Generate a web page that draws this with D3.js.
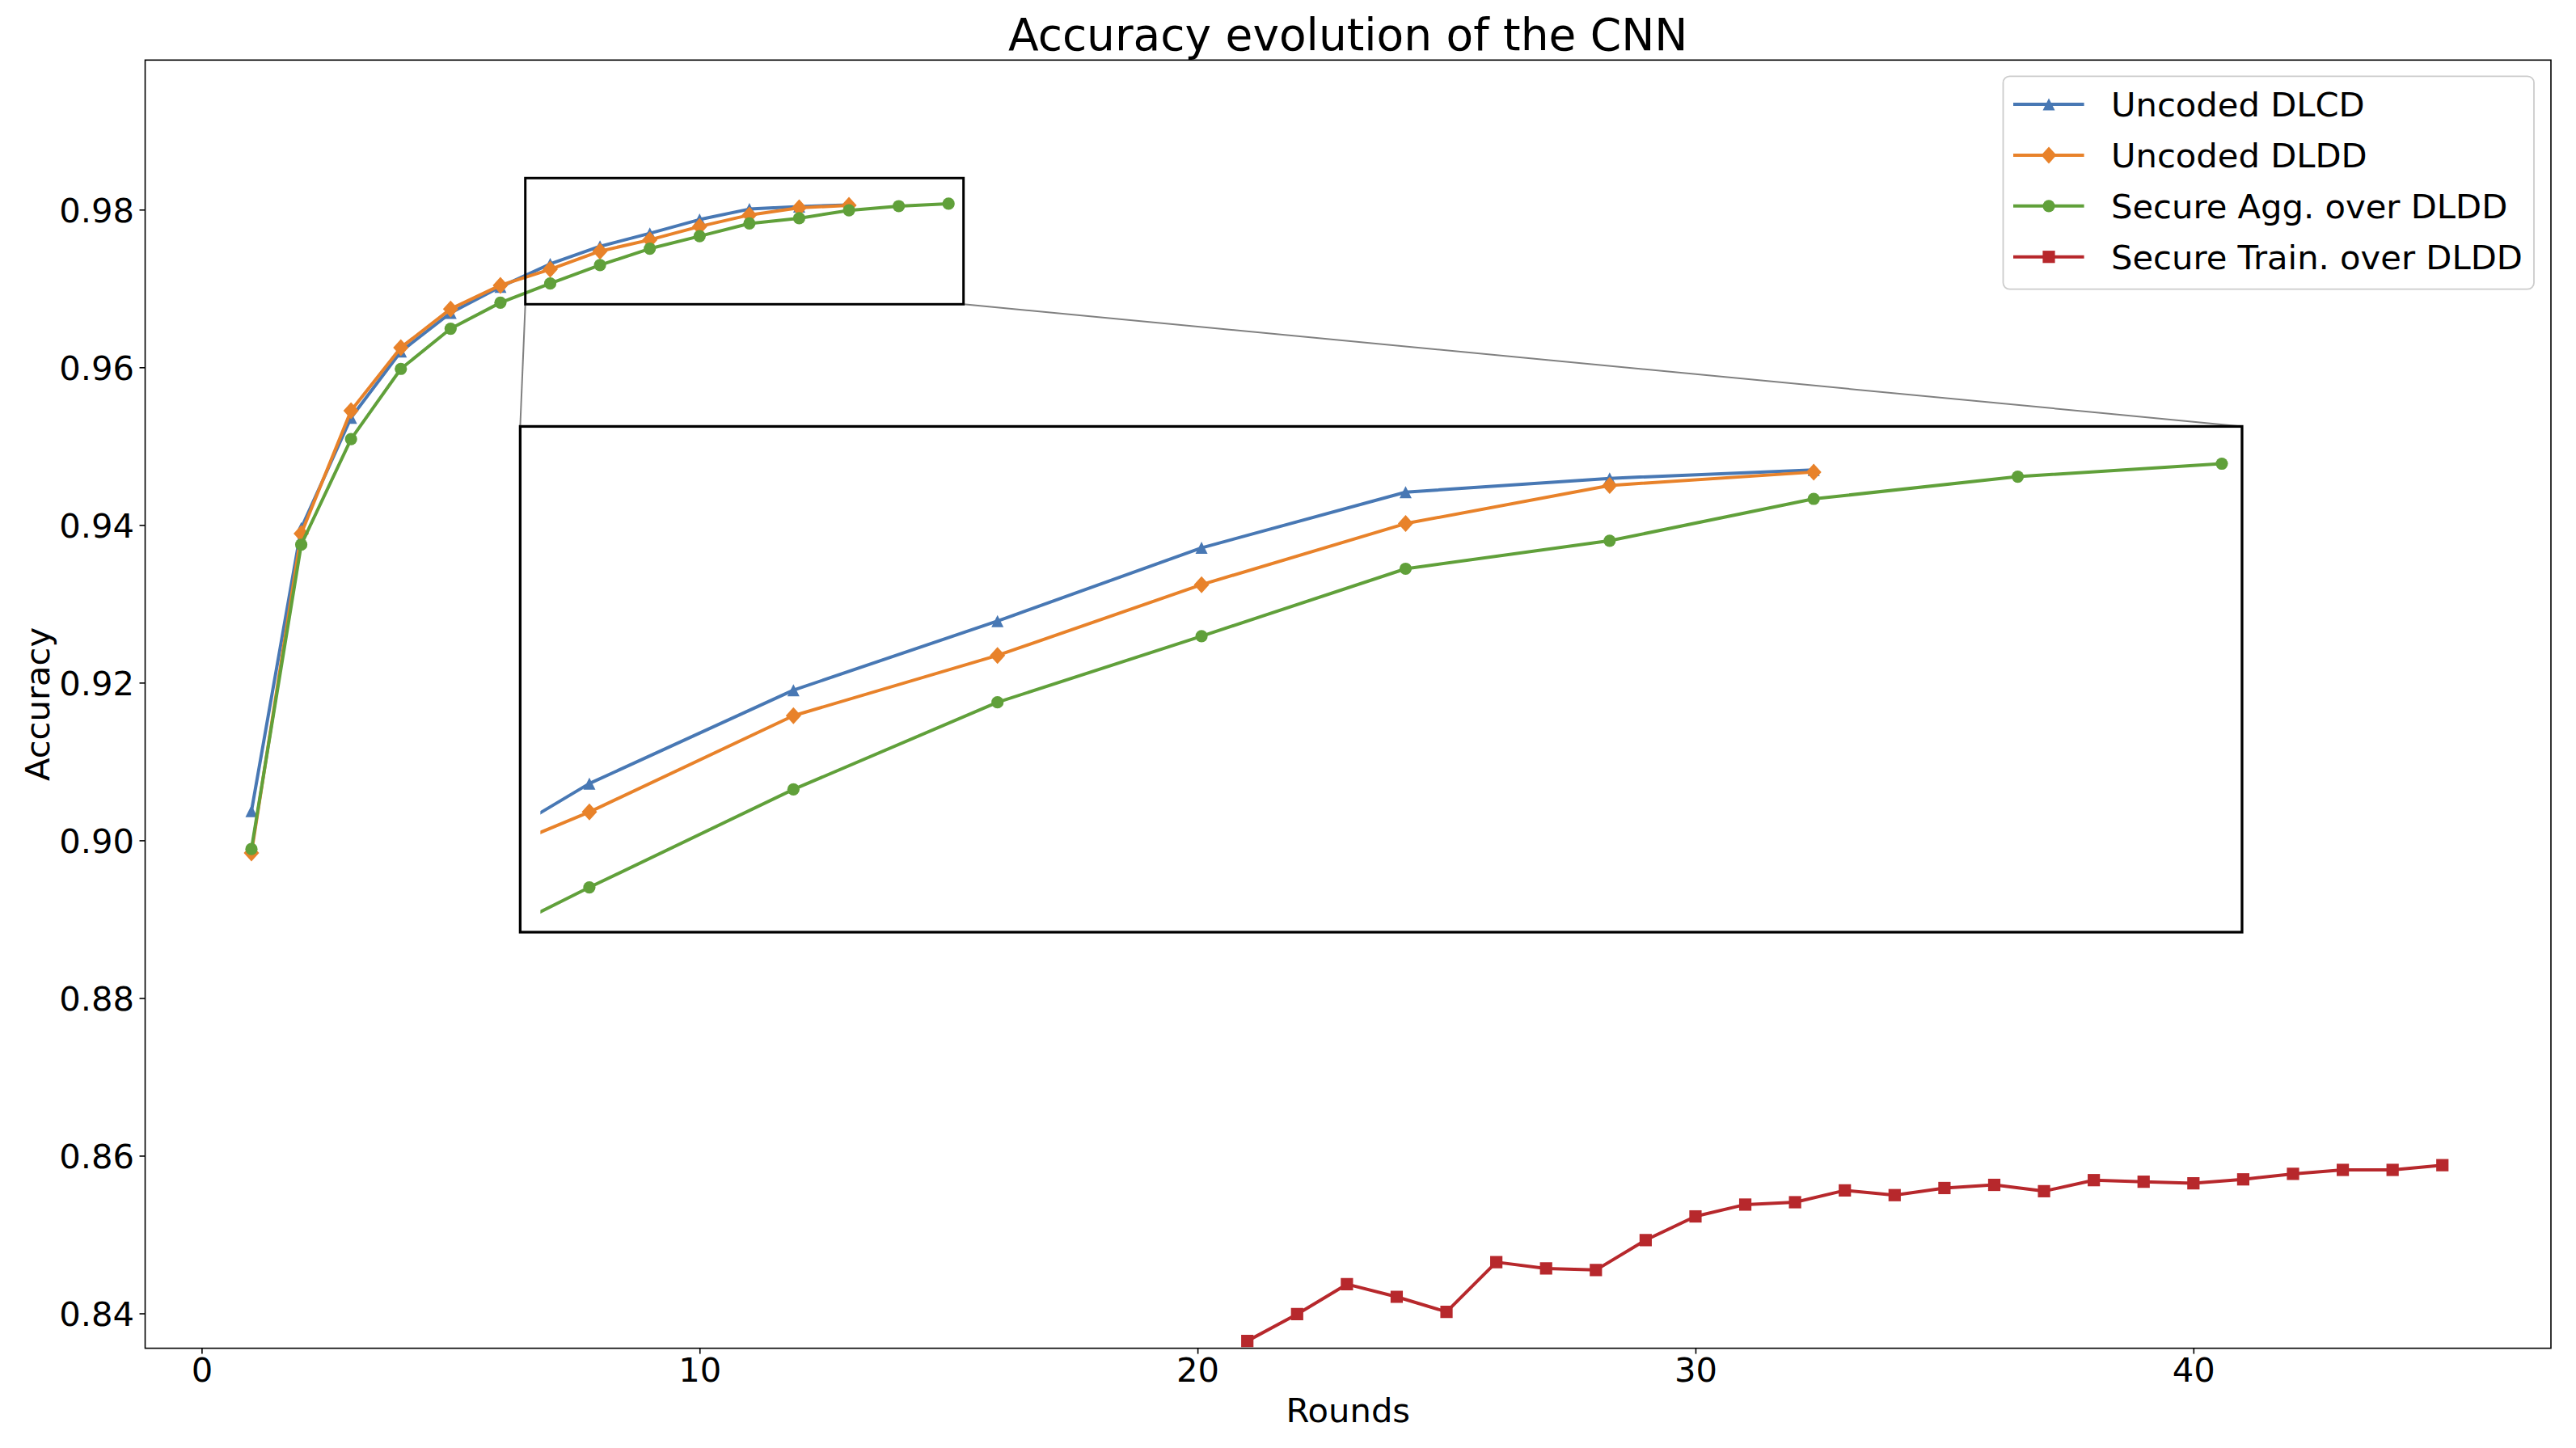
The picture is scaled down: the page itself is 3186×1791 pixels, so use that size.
<!DOCTYPE html>
<html>
<head>
<meta charset="utf-8">
<script src="https://cdn.jsdelivr.net/npm/d3@7"></script>
<style>
  html, body { margin: 0; padding: 0; background: #ffffff; }
  svg { display: block; font-family: "DejaVu Sans", sans-serif; }
</style>
</head>
<body>
<svg id="chart" width="3186" height="1791"></svg>
<script>
// ---------------- data ----------------
const roundsDLCD = [1,2,3,4,5,6,7,8,9,10,11,12,13];
const accDLCD    = [0.9037,0.9396,0.9536,0.9620,0.9669,0.9702,0.97311,0.97534,0.97699,0.97874,0.98007,0.98040,0.98060];

const roundsDLDD = [1,2,3,4,5,6,7,8,9,10,11,12,13];
const accDLDD    = [0.8984,0.9389,0.9545,0.9625,0.9674,0.9704,0.97243,0.97473,0.97617,0.97786,0.97932,0.98023,0.98055];

const roundsAgg  = [1,2,3,4,5,6,7,8,9,10,11,12,13,14,15];
const accAgg     = [0.8989,0.9375,0.9509,0.9598,0.9649,0.9682,0.97063,0.97297,0.97505,0.97663,0.97824,0.97891,0.97991,0.98044,0.98075];

const roundsTrain = [21,22,23,24,25,26,27,28,29,30,31,32,33,34,35,36,37,38,39,40,41,42,43,44,45];
const accTrain    = [0.8365,0.8399,0.8437,0.8421,0.8402,0.8465,0.8457,0.8455,0.8493,0.8523,0.8538,0.8541,0.8556,0.8550,0.8559,0.8563,0.8555,0.8569,0.8567,0.8565,0.8570,0.8577,0.8582,0.8582,0.8588];

const seriesNames = ["Uncoded DLCD","Uncoded DLDD","Secure Agg. over DLDD","Secure Train. over DLDD"];
const xTicks = [0,10,20,30,40];
const yTicks = [0.84,0.86,0.88,0.90,0.92,0.94,0.96,0.98];
const titleText = "Accuracy evolution of the CNN";
const xLabel = "Rounds";
const yLabel = "Accuracy";

// zoom window shown in the main axes, and the inset's own view limits
const zoomX = [6.5, 15.3], zoomY = [0.968, 0.984];
const insetXDomain = [6.661, 15.099], insetYDomain = [0.96956, 0.98164];
const insetClipStart = 6.76;

// ---------------- layout ----------------
const W = 3186, H = 1791;
const M = {left:179.5, right:3155, top:74.3, bottom:1667.6};
const FS = 41.7;
const colors = ["#4878b4","#e8822a","#60a03a","#b7282c"];
const markers = ["tri","dia","circ","sq"];
const series = [
  {xs:roundsDLCD, ys:accDLCD},
  {xs:roundsDLDD, ys:accDLDD},
  {xs:roundsAgg,  ys:accAgg},
  {xs:roundsTrain,ys:accTrain}
].map((s,i)=>({...s, name:seriesNames[i], color:colors[i], marker:markers[i],
               pts:s.xs.map((x,j)=>({x, y:s.ys[j]}))}));

const svg = d3.select("#chart");
svg.append("rect").attr("width",W).attr("height",H).attr("fill","#fff");

const x = d3.scaleLinear().domain([-1.135, 47.18]).range([M.left, M.right]);
const y = d3.scaleLinear().domain([0.83558, 0.99897]).range([M.bottom, M.top]);

function markerPath(type){
  switch(type){
    case "tri":  return "M0,-7.5L7.5,7.5L-7.5,7.5Z";
    case "dia":  return "M0,-10.5L9.5,0L0,10.5L-9.5,0Z";
    case "sq":   return "M-7.6,-7.6H7.6V7.6H-7.6Z";
    default:     return d3.symbol(d3.symbolCircle, Math.PI*7.6*7.6)();
  }
}

function drawSeries(g, sx, sy){
  series.forEach(s=>{
    const line = d3.line().x(d=>sx(d.x)).y(d=>sy(d.y));
    g.append("path").datum(s.pts).attr("d",line)
      .attr("fill","none").attr("stroke",s.color).attr("stroke-width",4)
      .attr("stroke-linejoin","round");
    g.selectAll(null).data(s.pts).enter().append("path")
      .attr("d",markerPath(s.marker))
      .attr("transform",d=>`translate(${sx(d.x)},${sy(d.y)})`)
      .attr("fill",s.color);
  });
}

// clip main
const defs = svg.append("defs");
defs.append("clipPath").attr("id","mainClip").append("rect")
  .attr("x",M.left).attr("y",M.top).attr("width",M.right-M.left).attr("height",M.bottom-M.top);

// axes
const xAxis = svg.append("g").attr("transform",`translate(0,${M.bottom})`)
  .call(d3.axisBottom(x).tickValues(xTicks).tickFormat(d3.format("d")).tickSize(7).tickPadding(5));
const yAxis = svg.append("g").attr("transform",`translate(${M.left},0)`)
  .call(d3.axisLeft(y).tickValues(yTicks).tickFormat(d3.format(".2f")).tickSize(7).tickPadding(6.5));
[xAxis,yAxis].forEach(a=>{
  a.select(".domain").remove();
  a.selectAll(".tick line").attr("stroke","#000").attr("stroke-width",1.6);
  a.selectAll(".tick text").attr("font-size",FS).attr("fill","#000")
    .attr("font-family","DejaVu Sans");
});
yAxis.selectAll(".tick text").attr("dy","0.36em");

// data
const gMain = svg.append("g").attr("clip-path","url(#mainClip)");
drawSeries(gMain, x, y);

// spines
svg.append("rect").attr("x",M.left).attr("y",M.top)
  .attr("width",M.right-M.left).attr("height",M.bottom-M.top)
  .attr("fill","none").attr("stroke","#000").attr("stroke-width",1.6);

// inset frame placement (fractions of plot area)
const pw = M.right-M.left, ph = M.bottom-M.top;
const I = {left:M.left+0.1559*pw, right:M.left+0.8716*pw, top:M.top+0.2844*ph, bottom:M.top+0.6770*ph};

// indicator rectangle + connectors
const zx0 = x(zoomX[0]), zx1 = x(zoomX[1]), zy0 = y(zoomY[1]), zy1 = y(zoomY[0]);
svg.append("line").attr("x1",zx0).attr("y1",zy1).attr("x2",I.left).attr("y2",I.top)
  .attr("stroke","#808080").attr("stroke-width",2);
svg.append("line").attr("x1",zx1).attr("y1",zy1).attr("x2",I.right).attr("y2",I.top)
  .attr("stroke","#808080").attr("stroke-width",2);
svg.append("rect").attr("x",zx0).attr("y",zy0).attr("width",zx1-zx0).attr("height",zy1-zy0)
  .attr("fill","none").attr("stroke","#000").attr("stroke-width",3);

// inset
const xi = d3.scaleLinear().domain(insetXDomain).range([I.left, I.right]);
const yi = d3.scaleLinear().domain(insetYDomain).range([I.bottom, I.top]);
defs.append("clipPath").attr("id","insetClip").append("rect")
  .attr("x",xi(insetClipStart)).attr("y",I.top)
  .attr("width",I.right-xi(insetClipStart)).attr("height",I.bottom-I.top);
svg.append("rect").attr("x",I.left).attr("y",I.top).attr("width",I.right-I.left).attr("height",I.bottom-I.top)
  .attr("fill","#fff");
const gInset = svg.append("g").attr("clip-path","url(#insetClip)");
drawSeries(gInset, xi, yi);
svg.append("rect").attr("x",I.left).attr("y",I.top).attr("width",I.right-I.left).attr("height",I.bottom-I.top)
  .attr("fill","none").attr("stroke","#000").attr("stroke-width",3.3);

// title & labels
svg.append("text").attr("x",(M.left+M.right)/2).attr("y",61.7).attr("text-anchor","middle")
  .attr("font-size",55).attr("fill","#000").text(titleText);
svg.append("text").attr("x",(M.left+M.right)/2).attr("y",1759).attr("text-anchor","middle")
  .attr("font-size",FS).attr("fill","#000").text(xLabel);
svg.append("text").attr("transform",`translate(61,${(M.top+M.bottom)/2}) rotate(-90)`)
  .attr("text-anchor","middle").attr("font-size",FS).attr("fill","#000").text(yLabel);

// legend
const L = {x:2477.5, y:94.3, w:656.5, h:263.4, row0:129, step:62.9};
svg.append("rect").attr("x",L.x).attr("y",L.y).attr("width",L.w).attr("height",L.h)
  .attr("rx",8).attr("ry",8).attr("fill","#fff").attr("fill-opacity",0.8)
  .attr("stroke","#cccccc").attr("stroke-width",1.8);
series.forEach((s,i)=>{
  const cy = L.row0 + i*L.step;
  const g = svg.append("g");
  g.append("line").attr("x1",2490).attr("x2",2577.6).attr("y1",cy).attr("y2",cy)
    .attr("stroke",s.color).attr("stroke-width",4);
  g.append("path").attr("d",markerPath(s.marker)).attr("transform",`translate(2534,${cy})`).attr("fill",s.color);
  g.append("text").attr("x",2611).attr("y",cy+15.2).attr("font-size",FS).attr("fill","#000").text(s.name);
});
</script>
</body>
</html>
